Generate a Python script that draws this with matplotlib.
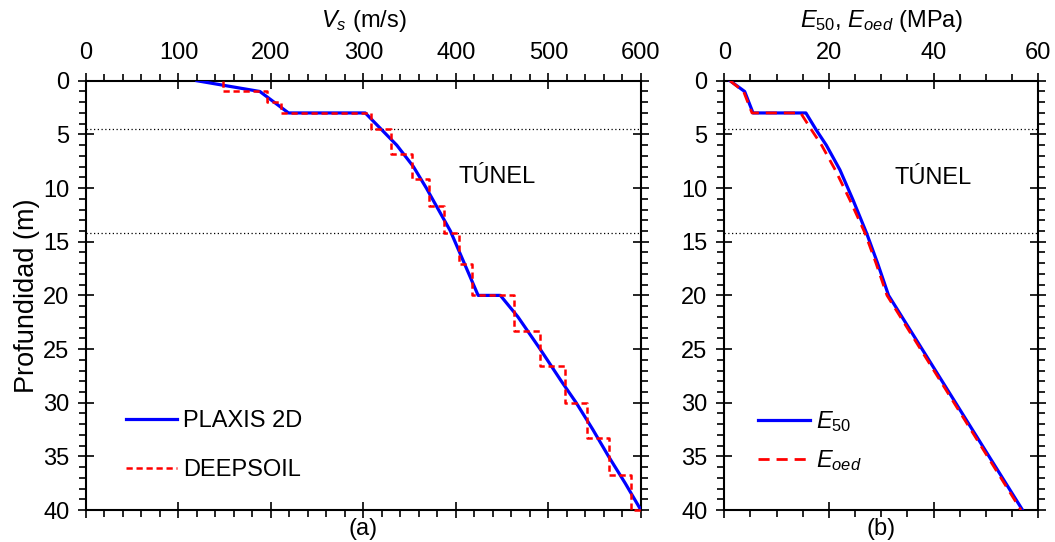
"""
Perfiles de Vs y de módulos E50 / Eoed con la profundidad (PLAXIS 2D vs DEEPSOIL).
"""
import matplotlib
matplotlib.use("Agg")
import matplotlib.pyplot as plt
from matplotlib.ticker import MultipleLocator

plt.rcParams["font.family"] = ["Liberation Sans", "DejaVu Sans"]
plt.rcParams["mathtext.fontset"] = "custom"
plt.rcParams["mathtext.rm"] = "Liberation Sans"
plt.rcParams["mathtext.it"] = "Liberation Sans:italic"
plt.rcParams["mathtext.bf"] = "Liberation Sans:bold"

# (a) Vs, PLAXIS 2D perfil continuo
plaxis_depth = [0, 1, 3, 3, 4.5, 6, 8, 10, 12, 14, 16, 18, 20, 20, 22, 25, 28,
                30, 32.5, 35, 37.5, 40]
plaxis_vs = [120, 188, 219, 302, 319, 336, 354, 368, 381, 394, 404, 414, 424,
             448, 467, 491, 514, 530, 548, 565, 583, 600]

# (a) Vs, DEEPSOIL capas (techo, base, Vs)
layer_top = [0, 1, 2, 3, 4.45, 6.8, 9.2, 11.7, 14.2, 17.1, 20, 23.3, 26.6, 30,
             33.3, 36.7]
layer_bot = [1, 2, 3, 4.45, 6.8, 9.2, 11.7, 14.2, 17.1, 20, 23.3, 26.6, 30,
             33.3, 36.7, 40]
layer_vs = [148, 196, 211, 308, 330, 353, 371, 387, 403, 417, 463, 491, 518,
            542, 566, 589]
halfspace_vs = 600

# (b) modulos
e50_depth = [0, 1, 3, 3, 4.6, 6, 8.3, 11.1, 14.2, 17, 20, 25, 30, 35, 40]
e50 = [1.1, 3.9, 5.5, 15.6, 17.6, 19.5, 22.1, 24.6, 27.2, 29.3, 31.4, 37.8,
       44.2, 50.6, 57.0]
eoed_depth = [0, 1, 3, 3, 4.6, 6, 8.3, 11.1, 14.2, 17, 20, 25, 30, 35, 40]
eoed = [1.1, 3.7, 5.3, 14.6, 16.7, 18.6, 21.2, 24.0, 26.9, 29.0, 31.1, 37.5,
        43.9, 50.3, 56.7]

tunnel_top = 4.5
tunnel_bot = 14.2

FS = 17
BLUE = "#0000ff"
RED = "#ff0000"


def style_axis(ax, xmax, xmajor, xminor):
    ax.set_xlim(0, xmax)
    ax.set_ylim(40, 0)
    ax.xaxis.set_major_locator(MultipleLocator(xmajor))
    ax.xaxis.set_minor_locator(MultipleLocator(xminor))
    ax.yaxis.set_major_locator(MultipleLocator(5))
    ax.yaxis.set_minor_locator(MultipleLocator(1))
    ax.xaxis.set_label_position("top")
    ax.tick_params(which="both", top=True, bottom=True, left=True, right=True,
                   labeltop=True, labelbottom=False, labelsize=FS, width=1.2)
    ax.tick_params(which="major", direction="inout", length=12, pad=6)
    ax.tick_params(which="minor", direction="out", length=5)
    for sp in ax.spines.values():
        sp.set_linewidth(1.5)
    for d in (tunnel_top, tunnel_bot):
        ax.axhline(d, color="black", linestyle=(0, (1, 2)), linewidth=0.9)


fig = plt.figure(figsize=(10.55, 5.42), dpi=100)
ax1 = fig.add_axes([0.0815, 0.059, 0.526, 0.792])
ax2 = fig.add_axes([0.6865, 0.059, 0.2976, 0.792])

# panel (a)
style_axis(ax1, 600, 100, 20)
step_x, step_y = [], []
for top, bot, vs in zip(layer_top, layer_bot, layer_vs):
    step_x += [vs, vs]
    step_y += [top, bot]
step_x.append(halfspace_vs)
step_y.append(layer_bot[-1])
ax1.plot(plaxis_vs, plaxis_depth, color=BLUE, linewidth=2.3,
         label="PLAXIS 2D", zorder=3)
ax1.plot(step_x, step_y, color=RED, linewidth=1.8, linestyle=(0, (2.5, 1.5)),
         label="DEEPSOIL", zorder=4, clip_on=False)
ax1.set_xlabel("$V_s$ (m/s)", fontsize=FS, labelpad=11)
ax1.set_ylabel("Profundidad (m)", fontsize=19.5, labelpad=2)
ax1.text(444, 9, "TÚNEL", fontsize=FS, ha="center", va="center")
ax1.text(0.5, -0.045, "(a)", transform=ax1.transAxes, fontsize=FS,
         ha="center", va="center")
ax1.legend(loc="upper left", bbox_to_anchor=(0.05, 0.26), frameon=False,
           fontsize=FS, handlelength=2.2, handletextpad=0.25,
           labelspacing=1.15, borderpad=0)

# panel (b)
style_axis(ax2, 60, 20, 5)
ax2.plot(e50, e50_depth, color=BLUE, linewidth=2.3, label="$E_\\mathrm{50}$",
         zorder=3)
ax2.plot(eoed, eoed_depth, color=RED, linewidth=2.0, linestyle=(0, (4, 2.5)),
         label="$E_{oed}$", zorder=4)
ax2.set_xlabel("$E_{\\mathit{50}}$, $E_{oed}$ (MPa)", fontsize=FS,
               labelpad=11)
ax2.text(40, 9.1, "TÚNEL", fontsize=FS, ha="center", va="center")
ax2.text(0.5, -0.045, "(b)", transform=ax2.transAxes, fontsize=FS,
         ha="center", va="center")
ax2.legend(loc="upper left", bbox_to_anchor=(0.07, 0.262), frameon=False,
           fontsize=FS, handlelength=2.2, handletextpad=0.25,
           labelspacing=0.6, borderpad=0)

fig.savefig("out.png", dpi=100)
